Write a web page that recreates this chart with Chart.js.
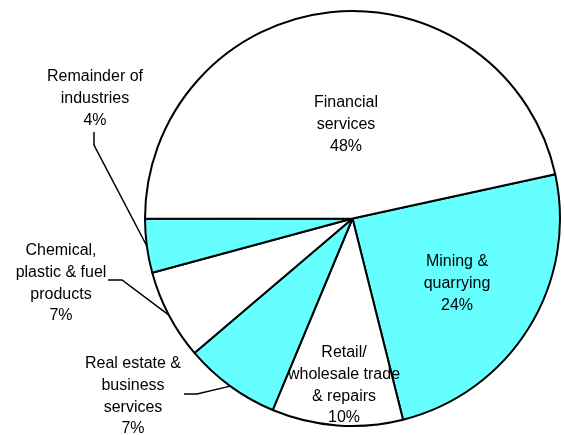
<!DOCTYPE html>
<html>
<head>
<meta charset="utf-8">
<script src="https://cdn.jsdelivr.net/npm/chart.js@4"></script>
<style>
  body { margin: 0; background: #fff; }
  #wrap { width: 564px; height: 435px; }
</style>
</head>
<body>
<div id="wrap"><canvas id="myChart" width="564" height="435"></canvas></div>
<script>
// sectors, clockwise starting from the Financial / Mining edge
var sectors = ['Mining & quarrying', 'Retail/ wholesale trade & repairs', 'Real estate & business services',
  'Chemical, plastic & fuel products', 'Remainder of industries', 'Financial services'];
var shares = [24.5, 10.2, 7.5, 7.0, 4.2, 46.6];
var shareLabels = ['24%', '10%', '7%', '7%', '4%', '48%'];
var nameLines = [
  ['Mining &', 'quarrying'],
  ['Retail/', 'wholesale trade', '& repairs'],
  ['Real estate &', 'business', 'services'],
  ['Chemical,', 'plastic & fuel', 'products'],
  ['Remainder of', 'industries'],
  ['Financial', 'services']
];
var fills = ['#66ffff', '#ffffff', '#66ffff', '#ffffff', '#66ffff', '#ffffff'];

// where the text blocks sit (first line centre) and the elbow of leader lines
var textSpots = [
  { x: 457, y: 262 },
  { x: 344, y: 353 },
  { x: 133, y: 364, leader: [[184, 394], [197, 394]] },
  { x: 61, y: 251, leader: [[108, 280], [122, 280]] },
  { x: 95, y: 77, leader: [[94, 132], [94, 145]] },
  { x: 346, y: 103 }
];

var sliceLabels = {
  id: 'sliceLabels',
  afterDraw: function (chart) {
    var c = chart.ctx;
    var arcs = chart.getDatasetMeta(0).data;
    c.save();
    c.strokeStyle = '#000';
    c.lineWidth = 1.5;
    arcs.forEach(function (arc, i) {
      var spot = textSpots[i];
      if (!spot.leader) return;
      var p = arc.getProps(['x', 'y', 'startAngle', 'endAngle', 'outerRadius'], true);
      var mid = (p.startAngle + p.endAngle) / 2;
      c.beginPath();
      c.moveTo(spot.leader[0][0], spot.leader[0][1]);
      c.lineTo(spot.leader[1][0], spot.leader[1][1]);
      c.lineTo(p.x + Math.cos(mid) * p.outerRadius, p.y + Math.sin(mid) * p.outerRadius);
      c.stroke();
    });
    c.fillStyle = '#000';
    c.font = '16px "Liberation Sans", Arial, sans-serif';
    c.textAlign = 'center';
    c.textBaseline = 'middle';
    arcs.forEach(function (arc, i) {
      var lines = nameLines[i].concat([shareLabels[i]]);
      lines.forEach(function (t, k) {
        c.fillText(t, textSpots[i].x, textSpots[i].y + k * 21.6);
      });
    });
    c.restore();
  }
};

var ctx = document.getElementById('myChart').getContext('2d');
var myChart = new Chart(ctx, {
  type: 'pie',
  data: {
    labels: sectors,
    datasets: [{
      data: shares,
      backgroundColor: fills,
      borderColor: '#000',
      borderWidth: 2
    }]
  },
  options: {
    responsive: false,
    animation: false,
    rotation: 77.7,
    layout: { padding: { left: 144, right: 3, top: 9.5, bottom: 7.5 } },
    plugins: {
      legend: { display: false },
      tooltip: { enabled: false }
    }
  },
  plugins: [sliceLabels]
});
</script>
</body>
</html>
